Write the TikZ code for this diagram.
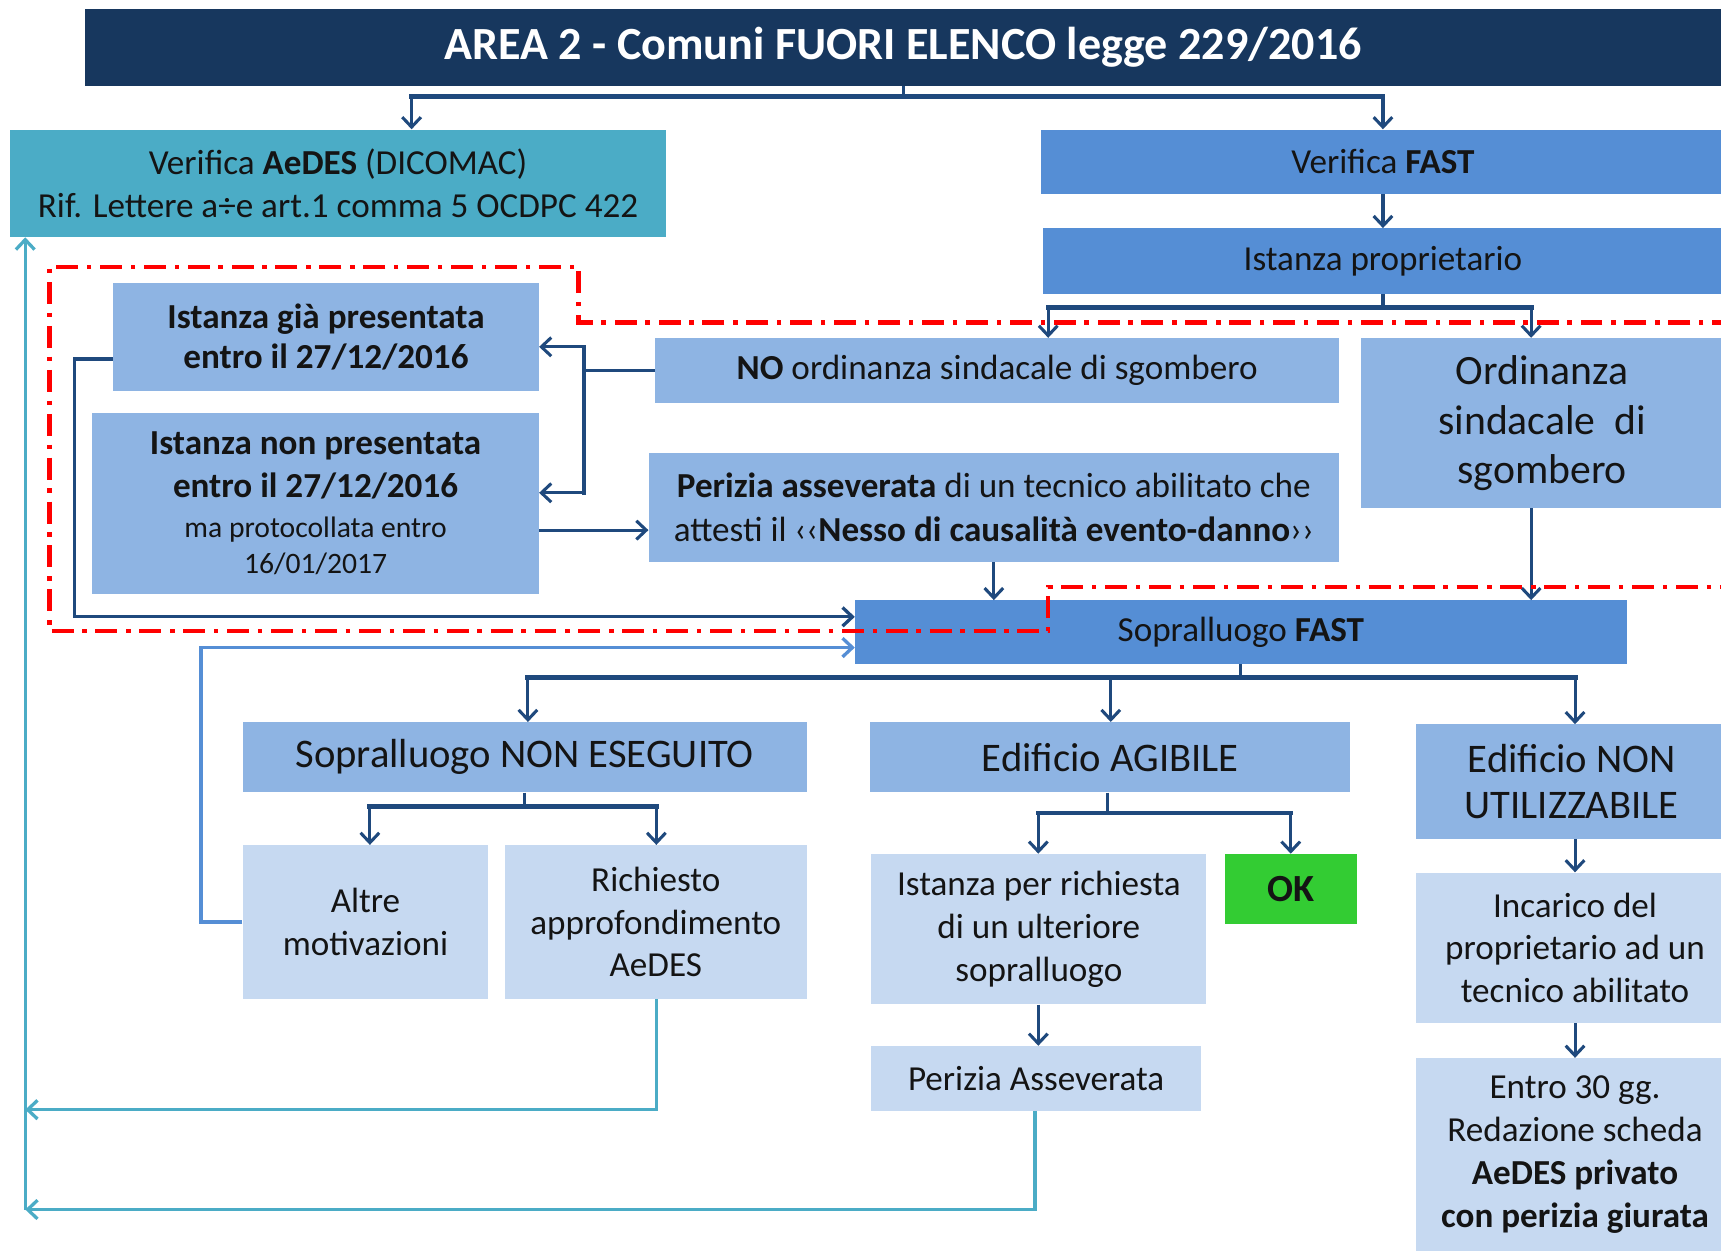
\documentclass[tikz,border=0pt]{standalone}
\usepackage{fontspec}
\setmainfont{Carlito}
\usetikzlibrary{arrows.meta}
\definecolor{navy}{HTML}{17375E}
\definecolor{tealc}{HTML}{4BACC6}
\definecolor{mblue}{HTML}{558ED5}
\definecolor{lblue}{HTML}{8EB4E3}
\definecolor{llblue}{HTML}{C6D9F1}
\definecolor{okgreen}{HTML}{33CC33}
\definecolor{conncol}{HTML}{1F497D}
\definecolor{txt}{HTML}{141414}
\newcommand\myfs[2]{\fontsize{#1}{#2}\selectfont}
\begin{document}
\begin{tikzpicture}[x=1pt,y=-1pt,
  box/.style={rectangle, inner sep=0pt, align=center, text=txt},
  f28/.style={font={\myfs{32}{40}}},
  f32/.style={font={\myfs{37}{43}}},
  tip/.style={-{Straight Barb[length=9pt,width=17pt]}},
  arr/.style={draw=conncol, line width=2.8pt, tip},
  stem/.style={draw=conncol, line width=2.8pt},
  bar/.style={draw=conncol, line width=4.5pt, line cap=rect},
  arrb/.style={draw=mblue, line width=3pt, tip},
  tarr/.style={draw=tealc, line width=3pt, tip},
  redline/.style={draw=red, line width=4pt, dash pattern=on 20pt off 8pt on 4pt off 8pt}
]
\clip (0,0) rectangle (1568,1139);

% ---------- boxes ----------
\node[box, fill=navy, text=white, minimum width=1492pt, minimum height=70pt, font={\myfs{42}{48}\bfseries}] (title) at (823,43) {AREA 2 - Comuni FUORI ELENCO legge 229/2016};

\node[box, f28, fill=tealc, minimum width=598pt, minimum height=98pt] (aedes) at (308,167) {Verifica \textbf{AeDES} (DICOMAC)\\Rif. Lettere a÷e art.1 comma 5 OCDPC 422};

\node[box, f28, fill=mblue, minimum width=624pt, minimum height=59pt] (vfast) at (1260,147.5) {Verifica \textbf{FAST}};
\node[box, f28, fill=mblue, minimum width=620pt, minimum height=60pt] (istprop) at (1260,238) {Istanza proprietario};

\node[box, f28, fill=lblue, minimum width=623pt, minimum height=59pt] (noord) at (908.5,337.5) {\textbf{NO} ordinanza sindacale di sgombero};
\node[box, fill=lblue, minimum width=330pt, minimum height=155pt, font={\myfs{38}{45}}] (ord) at (1405,385.5) {Ordinanza\\sindacale\ \ di\\sgombero};

\node[box, fill=lblue, minimum width=388pt, minimum height=98pt, font={\myfs{32}{37}\bfseries}] (gia) at (297,307) {Istanza già presentata\\entro il 27/12/2016};
\node[box, fill=lblue, minimum width=407pt, minimum height=165pt, font={\myfs{32}{39}}] (non) at (287.5,458.5) {\textbf{Istanza non presentata}\\\textbf{entro il 27/12/2016}\\[-3pt]{\myfs{27}{33}ma protocollata entro}\\[-6pt]{\myfs{27}{33}16/01/2017}};

\node[box, f28, fill=lblue, minimum width=629pt, minimum height=99pt] (perizia) at (905.5,462.5) {\textbf{Perizia asseverata} di un tecnico abilitato che\\attesti il ‹‹\textbf{Nesso di causalità evento-danno}››};

\node[box, f28, fill=mblue, minimum width=703pt, minimum height=58pt] (sfast) at (1130.5,576) {Sopralluogo \textbf{FAST}};

\node[box, f32, fill=lblue, minimum width=514pt, minimum height=64pt] (nonese) at (478,690) {Sopralluogo NON ESEGUITO};
\node[box, f32, fill=lblue, minimum width=437pt, minimum height=64pt] (agib) at (1011.5,690) {Edificio AGIBILE};
\node[box, fill=lblue, minimum width=284pt, minimum height=104pt, font={\myfs{37}{42}}] (nonutil) at (1432,712) {Edificio NON\\UTILIZZABILE};

\node[box, fill=llblue, minimum width=224pt, minimum height=140pt, font={\myfs{32}{39}}] (altre) at (333,840) {Altre\\motivazioni};
\node[box, fill=llblue, minimum width=275pt, minimum height=140pt, font={\myfs{32}{38.5}}] (rich) at (597.5,840) {Richiesto\\approfondimento\\AeDES};
\node[box, fill=llblue, minimum width=305pt, minimum height=137pt, font={\myfs{32}{39}}] (istric) at (946.5,846.5) {Istanza per richiesta\\di un ulteriore\\sopralluogo};
\node[box, fill=okgreen, minimum width=120pt, minimum height=64pt, font={\myfs{35}{40}\bfseries}] (ok) at (1176,810) {OK};
\node[box, f28, fill=llblue, minimum width=300pt, minimum height=59pt] (perass) at (944,982.5) {Perizia Asseverata};
\node[box, fill=llblue, minimum width=290pt, minimum height=137pt, font={\myfs{32}{38.5}}] (incarico) at (1435,863.5) {Incarico del\\proprietario ad un\\tecnico abilitato};
\node[box, fill=llblue, minimum width=290pt, minimum height=176pt, font={\myfs{32}{39}}] (entro) at (1435,1052) {Entro 30 gg.\\Redazione scheda\\\textbf{AeDES privato}\\\textbf{con perizia giurata}};

% ---------- connectors ----------
\coordinate (tj) at (823,88);
\coordinate (tl) at (375,88);
\coordinate (tr) at (1260,88);
\draw[stem] (title.south) -- (tj);
\draw[bar] (tl) -- (tr);
\draw[arr] (tl) -- (aedes.north -| tl);
\draw[arr] (tr) -- (vfast.north -| tr);

\draw[arr] (vfast.south) -- (istprop.north);

\coordinate (ij) at (1260,280);
\coordinate (il) at (955,280);
\coordinate (ir) at (1395,280);
\draw[stem] (istprop.south) -- (ij);
\draw[bar] (il) -- (ir);
\draw[arr] (il) -- (noord.north -| il);
\draw[arr] (ir) -- (ord.north -| ir);

\coordinate (nj) at (532,337.5);
\coordinate (nt) at (532,316);
\coordinate (nb) at (532,449);
\draw[stem] (noord.west) -- (nj);
\draw[draw=conncol, line width=3.2pt, line cap=rect] (nt) -- (nb);
\draw[arr] (nt) -- (gia.east |- nt);
\draw[arr] (nb) -- (non.east |- nb);

\coordinate (pj) at (491,483);
\draw[arr] (non.east |- pj) -- (perizia.west |- pj);
\draw[arr] (perizia.south) -- (sfast.north -| perizia.south);

\coordinate (ox) at (1395,463);
\draw[arr] (ord.south -| ox) -- (sfast.north -| ox);

\coordinate (g1) at (68,327);
\coordinate (g2) at (68,562);
\draw[arr, line width=3pt] (gia.west |- g1) -- (g1) -- (g2) -- (sfast.west |- g2);

\coordinate (a1) at (183,840);
\coordinate (a2) at (183,590);
\draw[arrb] (altre.west) -- (a1) -- (a2) -- (sfast.west |- a2);

\coordinate (sj) at (1130.5,617);
\coordinate (sl) at (481,617);
\coordinate (sm) at (1012,617);
\coordinate (sr) at (1435,617);
\draw[stem] (sfast.south) -- (sj);
\draw[bar] (sl) -- (sr);
\draw[arr] (sl) -- (nonese.north -| sl);
\draw[arr] (sm) -- (agib.north -| sm);
\draw[arr] (sr) -- (nonutil.north -| sr);

\coordinate (ej) at (478,735);
\coordinate (el) at (337,735);
\coordinate (er) at (598,735);
\draw[stem] (nonese.south) -- (ej);
\draw[bar] (el) -- (er);
\draw[arr] (el) -- (altre.north -| el);
\draw[arr] (er) -- (rich.north -| er);

\coordinate (gj) at (1009,741);
\coordinate (gl) at (946,741);
\coordinate (gr) at (1176,741);
\draw[stem] (agib.south -| gj) -- (gj);
\draw[draw=conncol, line width=3.5pt, line cap=rect] (gl) -- (gr);
\draw[arr] (gl) -- (istric.north -| gl);
\draw[arr] (gr) -- (ok.north);
\draw[arr] (istric.south -| gl) -- (perass.north -| gl);

\coordinate (ux) at (1435,770);
\draw[arr] (nonutil.south -| ux) -- (incarico.north -| ux);
\draw[arr] (incarico.south) -- (entro.north);

% teal return lines
\coordinate (tk1) at (23,1011);
\coordinate (tk2) at (23,1102);
\coordinate (r1) at (598,1011);
\coordinate (p1) at (943,1102);
\draw[tarr] (rich.south -| r1) -- (r1) -- (tk1);
\draw[tarr] (perass.south -| p1) -- (p1) -- (tk2);
\draw[tarr] (tk2) -- (aedes.south -| tk2);

% red dash-dot boundary
\draw[redline] (1580,294) -- (527,294) -- (527,243) -- (45,243) -- (45,575) -- (955,575) -- (955,535) -- (1580,535);
\end{tikzpicture}
\end{document}
